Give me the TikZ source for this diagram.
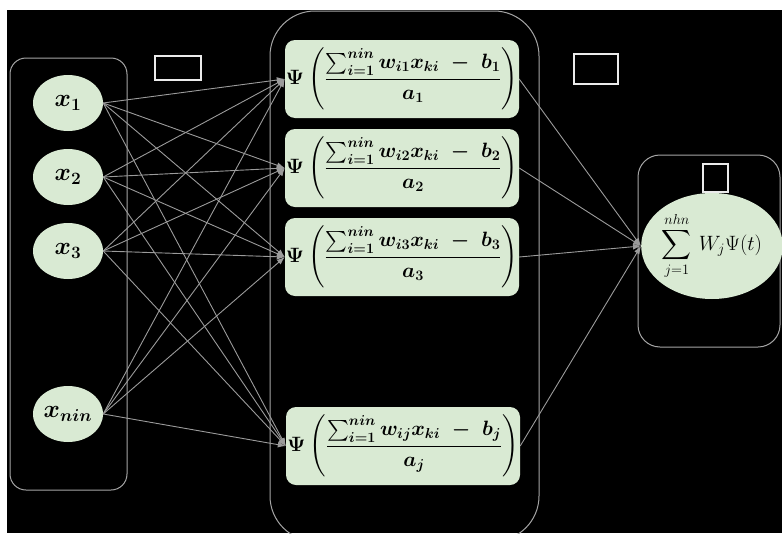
\documentclass[tikz,border=0pt]{standalone}
\usepackage{amsmath}
\usetikzlibrary{arrows.meta,shapes.geometric}
\definecolor{nodefill}{RGB}{217,234,211}
\definecolor{edgegray}{RGB}{155,155,155}
\definecolor{framegray}{RGB}{165,165,165}
\definecolor{boxwhite}{RGB}{235,235,235}
\begin{document}
\begin{tikzpicture}[x=1pt,y=-1pt,
  inp/.style={ellipse,fill=nodefill,minimum width=70pt,minimum height=56pt,inner sep=0pt,
    font=\fontsize{26}{30}\selectfont\boldmath},
  hid/.style={rounded corners=10pt,fill=nodefill,minimum width=234pt,minimum height=78pt,inner sep=0pt,
    font=\fontsize{21}{25}\selectfont\boldmath},
  outn/.style={ellipse,fill=nodefill,minimum width=126pt,minimum height=106pt,inner sep=0pt,
    font=\fontsize{21}{25}\selectfont},
  conn/.style={draw=edgegray,line width=0.9pt,-{Latex[length=8pt,width=6pt]}},
  frame/.style={draw=framegray,line width=1pt},
  tag/.style={draw=boxwhite,line width=1.3pt,inner sep=0pt}]
\useasboundingbox (0,0) rectangle (782,533);
\clip (0,0) rectangle (782,533);
\fill[white] (0,0) rectangle (782,533);
\fill[black] (7,10) rectangle (782,533);
% containers
\draw[frame,rounded corners=16pt] (10,58) rectangle (127,490);
\draw[frame,rounded corners=45pt] (270,11) rectangle (539,541);
\draw[frame,rounded corners=22pt] (638,155) rectangle (780,347);
% tags
\node[tag,minimum width=46pt,minimum height=24pt] (t1) at (178,68) {};
\node[tag,minimum width=44pt,minimum height=30pt] (t2) at (596,69) {};
\node[tag,minimum width=25pt,minimum height=28pt] (t3) at (715.5,178) {};
% inputs
\node[inp] (x1) at (68,103) {$x_1$};
\node[inp] (x2) at (68,177) {$x_2$};
\node[inp] (x3) at (68,251) {$x_3$};
\node[inp] (xn) at (68,414) {$x_{nin}$};
% hidden
\node[hid] (h1) at (402,79) {$\displaystyle\Psi\left(\frac{\sum_{i=1}^{nin} w_{i1}x_{ki}\ -\ b_1}{a_1}\right)$};
\node[hid] (h2) at (402,168) {$\displaystyle\Psi\left(\frac{\sum_{i=1}^{nin} w_{i2}x_{ki}\ -\ b_2}{a_2}\right)$};
\node[hid] (h3) at (402,257) {$\displaystyle\Psi\left(\frac{\sum_{i=1}^{nin} w_{i3}x_{ki}\ -\ b_3}{a_3}\right)$};
\node[hid] (hj) at (403,446) {$\displaystyle\Psi\left(\frac{\sum_{i=1}^{nin} w_{ij}x_{ki}\ -\ b_j}{a_j}\right)$};
% output
\node[outn] (o) at (712,246) {$\displaystyle\sum_{j=1}^{nhn}\, W_j\Psi(t)$};
% connections
\foreach \s in {x1,x2,x3,xn}{
  \foreach \t in {h1,h2,h3,hj}{
    \draw[conn] (\s.east) -- (\t.west);
  }
}
\foreach \t in {h1,h2,h3,hj}{
  \draw[conn] (\t.east) -- (o.west);
}
\end{tikzpicture}
\end{document}
